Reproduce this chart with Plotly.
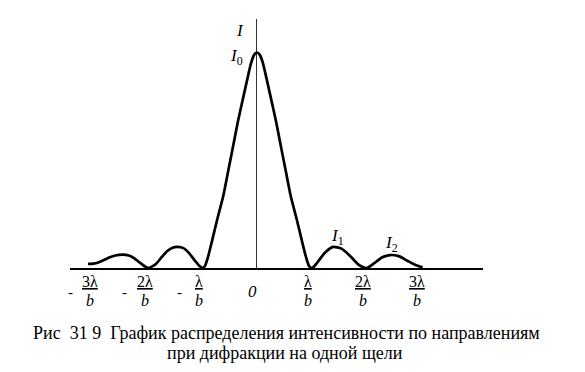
import plotly.graph_objects as go

# Curve: x in units of lambda/b, I relative to I0
x_vals = [-3.10, -3.0, -2.9, -2.8, -2.7, -2.6, -2.47, -2.35, -2.25, -2.15, -2.05, -2.0,
          -1.95, -1.85, -1.75, -1.65, -1.55, -1.45, -1.35, -1.25, -1.15, -1.05, -1.0,
          -0.95, -0.9, -0.83, -0.73, -0.62, -0.54, -0.45, -0.35, -0.245, -0.17, -0.11, -0.05, 0.0,
          0.05, 0.11, 0.17, 0.245, 0.35, 0.45, 0.54, 0.62, 0.73, 0.83, 0.9, 0.95, 1.0,
          1.05, 1.15, 1.25, 1.40, 1.55, 1.65, 1.75, 1.85, 1.95, 2.0,
          2.05, 2.15, 2.3, 2.44, 2.6, 2.75, 2.9, 3.0, 3.04]
i_vals = [0.019, 0.020, 0.027, 0.038, 0.050, 0.058, 0.062, 0.058, 0.045, 0.025, 0.006, 0.0,
          0.004, 0.020, 0.050, 0.078, 0.094, 0.098, 0.092, 0.070, 0.038, 0.008, 0.0,
          0.012, 0.050, 0.12, 0.225, 0.333, 0.435, 0.55, 0.68, 0.80, 0.885, 0.95, 0.99, 1.0,
          0.99, 0.95, 0.885, 0.80, 0.68, 0.55, 0.435, 0.333, 0.225, 0.12, 0.050, 0.012, 0.0,
          0.008, 0.040, 0.072, 0.098, 0.090, 0.070, 0.045, 0.018, 0.003, 0.0,
          0.004, 0.022, 0.050, 0.060, 0.055, 0.035, 0.015, 0.006, 0.004]

tick_vals = [-3, -2, -1, 0, 1, 2, 3]
tick_num = ["3λ", "2λ", "λ", "0", "λ", "2λ", "3λ"]
tick_den = ["b", "b", "b", "", "b", "b", "b"]

peak_labels = [("<i>I</i>", -0.31, 1.104), ("<i>I</i><sub>0</sub>", -0.37, 0.979),
               ("<i>I</i><sub>1</sub>", 1.47, 0.144), ("<i>I</i><sub>2</sub>", 2.47, 0.111)]

caption1 = "Рис\u00a0\u00a031\u00a09\u00a0\u00a0График распределения интенсивности по направлениям"
caption2 = "при дифракции на одной щели"

FONT = "Times New Roman, Liberation Serif, serif"

fig = go.Figure()
fig.add_trace(go.Scatter(x=x_vals, y=i_vals, mode="lines",
                         line=dict(color="black", width=2.7, shape="spline", smoothing=0.6),
                         cliponaxis=False, hoverinfo="skip"))

for v, n, d in zip(tick_vals, tick_num, tick_den):
    if d:
        fig.add_annotation(x=v, y=0, xref="x", yref="y", text="<u>" + n + "</u>", showarrow=False,
                           xanchor="center", yanchor="bottom", xshift=-3, yshift=-23, borderpad=0,
                           font=dict(family=FONT, size=16, color="black"))
        fig.add_annotation(x=v, y=0, xref="x", yref="y", text="<i>" + d + "</i>", showarrow=False,
                           xanchor="center", yanchor="top", xshift=-3, yshift=-23, borderpad=0,
                           font=dict(family=FONT, size=16, color="black"))
    else:
        fig.add_annotation(x=v, y=0, xref="x", yref="y", text="<i>" + n + "</i>", showarrow=False,
                           xanchor="center", yanchor="middle", xshift=-4, yshift=-23,
                           font=dict(family=FONT, size=17, color="black"))
    if v < 0:
        fig.add_annotation(x=v, y=0, xref="x", yref="y", text="-", showarrow=False,
                           xanchor="center", yanchor="middle", xshift=-23, yshift=-24,
                           font=dict(family=FONT, size=15, color="black"))

for t, xx, yy in peak_labels:
    fig.add_annotation(x=xx, y=yy, xref="x", yref="y", text=t, showarrow=False,
                       xanchor="center", yanchor="middle",
                       font=dict(family=FONT, size=17, color="black"))

fig.add_annotation(x=3.76, y=-0.084, xref="x", yref="y", text="sin φ", showarrow=False,
                   xanchor="center", yanchor="middle",
                   font=dict(family=FONT, size=16, color="black"))

fig.add_annotation(x=0.525, y=0, xref="paper", yref="paper", text=caption1, showarrow=False,
                   xanchor="center", yanchor="middle", yshift=-65,
                   font=dict(family=FONT, size=18, color="black"))
fig.add_annotation(x=0.52, y=0, xref="paper", yref="paper", text=caption2, showarrow=False,
                   xanchor="center", yanchor="middle", yshift=-85,
                   font=dict(family=FONT, size=18, color="black"))

fig.update_layout(
    width=585, height=372,
    margin=dict(l=70, r=102, t=19, b=104),
    paper_bgcolor="white", plot_bgcolor="white",
    showlegend=False,
    xaxis=dict(range=[-3.431, 4.147], showgrid=False, showticklabels=False, ticks="",
               zeroline=True, zerolinecolor="#333", zerolinewidth=1.2,
               showline=True, linecolor="black", linewidth=2, fixedrange=True),
    yaxis=dict(range=[0, 1.1555], showgrid=False, showticklabels=False, ticks="",
               zeroline=False, showline=False, fixedrange=True),
)

fig.write_html("out.html")
